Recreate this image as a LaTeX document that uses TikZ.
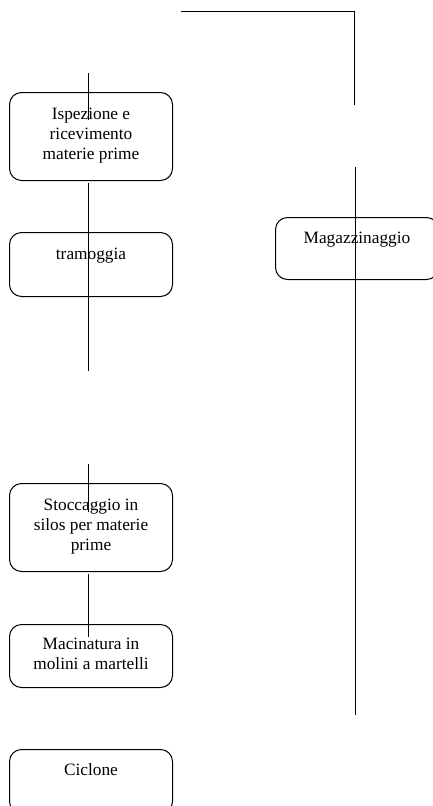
\documentclass[tikz,border=0pt]{standalone}
\usepackage{fontspec}
\setmainfont{Liberation Serif}
\begin{document}
\begin{tikzpicture}[x=1pt,y=-1pt,
  box/.style={draw,line width=1pt,rounded corners=12pt,minimum width=163pt,anchor=north west,inner sep=0pt},
  lbl/.style={anchor=north,align=center,inner sep=0pt,font=\fontsize{17.3}{20}\selectfont},
  ln/.style={line width=1pt}]
\useasboundingbox (0,0) rectangle (433,806);
% boxes
\node[box,minimum height=88pt] (b1) at (9,92) {};
\node[box,minimum height=64pt] (b2) at (9,232) {};
\node[box,minimum height=62pt] (b3) at (275,217) {};
\node[box,minimum height=88pt] (b4) at (9,483) {};
\node[box,minimum height=63pt] (b5) at (9,624) {};
\node[box,minimum height=64pt] (b6) at (9,749) {};
% labels
\node[lbl] (t1) at ([yshift=-15.5pt]b1.north) {Ispezione e\\ricevimento\\materie prime};
\node[lbl] (t2) at ([yshift=-15.5pt]b2.north) {tramoggia};
\node[lbl] (t3) at ([yshift=-14.5pt]b3.north) {Magazzinaggio};
\node[lbl] (t4) at ([yshift=-15.5pt]b4.north) {Stoccaggio in\\silos per materie\\prime};
\node[lbl] (t5) at ([yshift=-14pt]b5.north) {Macinatura in\\molini a martelli};
\node[lbl] (t6) at ([yshift=-14.5pt]b6.north) {Ciclone};
% line end points
\coordinate (a1) at (88,73);   \coordinate (a2) at (88,120);
\coordinate (c1) at (88,183);  \coordinate (c2) at (88,371);
\coordinate (d1) at (181,11);  \coordinate (d2) at (354,11); \coordinate (d3) at (354,105);
\coordinate (e1) at (355,167); \coordinate (e2) at (355,715);
\coordinate (f1) at (88,464);  \coordinate (f2) at (88,512);
\coordinate (g1) at (88,574);  \coordinate (g2) at (88,637);
\draw[ln] (a1) -- (a2);
\draw[ln] (c1) -- (c2);
\draw[ln] (d1) -- (d2) -- (d3);
\draw[ln] (e1) -- (e2);
\draw[ln] (f1) -- (f2);
\draw[ln] (g1) -- (g2);
\end{tikzpicture}
\end{document}
